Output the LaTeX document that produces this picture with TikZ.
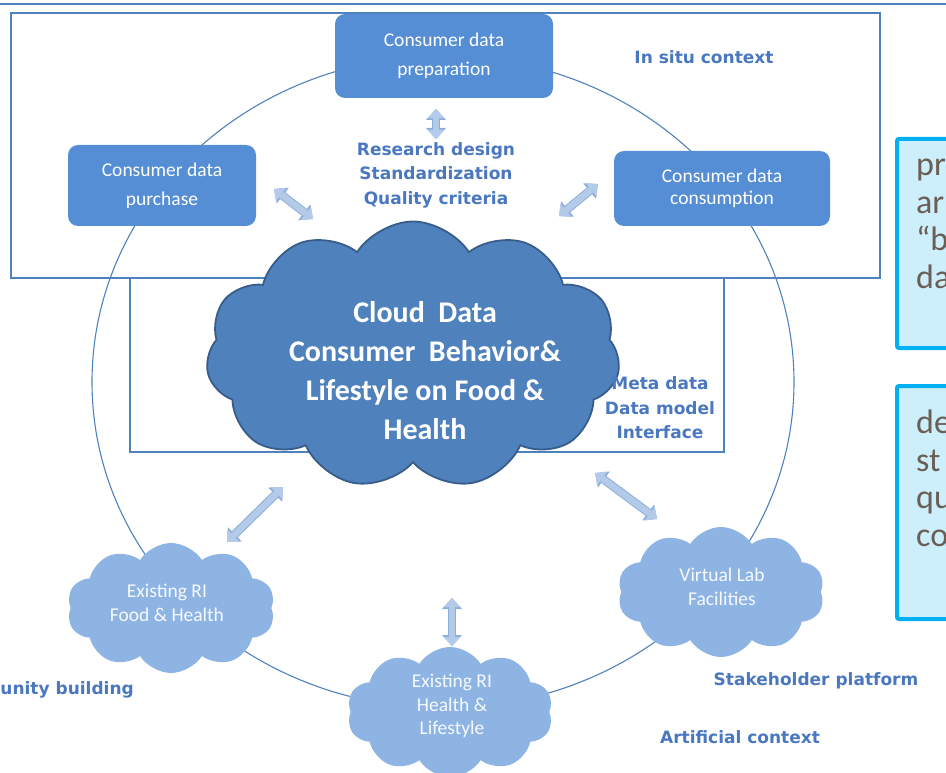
\documentclass[tikz,border=0pt]{standalone}
\usepackage{fontspec}
\setmainfont{Carlito}
\newfontfamily\tagfont{DejaVu Sans}
\usetikzlibrary{arrows.meta,shapes.symbols}
\definecolor{rimblue}{HTML}{4F81BD}
\definecolor{stageblue}{HTML}{558ED5}
\definecolor{coreblue}{HTML}{4F81BD}
\definecolor{coreedge}{HTML}{385D8A}
\definecolor{puffblue}{HTML}{8EB4E3}
\definecolor{tagblue}{HTML}{4A78C0}
\definecolor{linkfill}{HTML}{B3CAE8}
\definecolor{linkedge}{HTML}{8DAFDB}
\definecolor{notefill}{HTML}{CDEFFB}
\definecolor{noteedge}{HTML}{00B0F0}
\definecolor{notegray}{HTML}{6B5E54}
\tikzset{
    >=Triangle,
    rsd/.style={
        panel/.append style={draw=rimblue,line width=2.5pt},
        ring/.append style={draw=rimblue,line width=1.1pt},
        stage/.append style={rectangle,rounded corners=10pt,fill=stageblue,text=white,align=center,inner sep=0pt,font=\fontsize{19.5}{29}\selectfont},
        core/.append style={cloud,cloud puffs=11,cloud puff arc=115,aspect=1.6,fill=coreblue,draw=coreedge,line width=1.8pt,inner sep=0pt},
        coretext/.append style={text=white,align=center,font=\bfseries\fontsize{30}{39}\selectfont},
        puff/.append style={cloud,cloud puffs=10,cloud puff arc=115,aspect=1.6,fill=puffblue,inner sep=0pt},
        pufftext/.append style={text=white!92!puffblue,align=center,font=\fontsize{19.5}{23.5}\selectfont},
        tag/.append style={text=tagblue,align=center,inner sep=0pt,font=\tagfont\bfseries\fontsize{17}{24.5}\selectfont},
        note/.append style={rectangle,fill=notefill,draw=noteedge,line width=4pt,rounded corners=2pt,anchor=north west},
        notetext/.append style={text=notegray,align=left,inner sep=0pt,anchor=north west,font=\fontsize{34}{37.5}\selectfont},
        link/.append style={draw=linkfill,line width=6.5pt,
            {Triangle[length=9pt,width=17pt,line width=0pt]}-{Triangle[length=9pt,width=17pt,line width=0pt]},
            preaction={draw=linkedge,line width=8.5pt,
            {Triangle[length=11pt,width=20pt,line width=0pt]}-{Triangle[length=11pt,width=20pt,line width=0pt]}}}
    }
}

\begin{document}
\begin{tikzpicture}[rsd,x=1pt,y=-1pt]
    \useasboundingbox (0,0) rectangle (946,773);
    \clip (0,0) rectangle (946,773);

    % frames
    \draw[rimblue,line width=2.5pt] (0,4) -- (946,4);
    \draw[panel] (11,13) rectangle (880,278);
    \draw[panel] (130,278) -- (130,452) -- (724,452) -- (724,278);
    \draw[ring] (443,382) ellipse [x radius=351,y radius=326];

    % arrows
    \coordinate (v1a) at (436,109);
    \coordinate (v1b) at (436,139);
    \coordinate (pa) at (274,189);
    \coordinate (pb) at (313,219);
    \coordinate (ca) at (598,184);
    \coordinate (cb) at (559,216);
    \coordinate (fa) at (227,542);
    \coordinate (fb) at (283,487);
    \coordinate (v2a) at (452,598);
    \coordinate (v2b) at (452,646);
    \coordinate (la) at (595,473);
    \coordinate (lb) at (657,519);
    \draw[link] (v1a) -- (v1b);
    \draw[link] (pa) -- (pb);
    \draw[link] (ca) -- (cb);
    \draw[link] (fa) -- (fb);
    \draw[link] (v2a) -- (v2b);
    \draw[link] (la) -- (lb);

    % in situ stages
    \node[stage,minimum width=218,minimum height=84] (prep) at (444,56) {Consumer data\\preparation};
    \node[stage,minimum width=188,minimum height=81] (purch) at (162,185.5) {Consumer data\\purchase};
    \node[stage,minimum width=216,minimum height=75,font=\fontsize{19.5}{22}\selectfont] (consum) at (722,188.5) {Consumer data\\consumption};

    % clouds
    \node[core,minimum width=414,minimum height=267] (hub) at (413,355) {};
    \node[coretext] (hubtxt) at (425,371) {Cloud\ \ Data\\Consumer\ \ Behavior\&\\Lifestyle on Food \&\\Health};
    \node[puff,minimum width=208,minimum height=130] (foodri) at (171,608) {};
    \node[pufftext] (foodtxt) at (167,603) {Existing RI\\Food \& Health};
    \node[puff,minimum width=206,minimum height=130] (healthri) at (450,712) {};
    \node[pufftext] (healthtxt) at (452,706) {Existing RI\\Health \&\\Lifestyle};
    \node[puff,minimum width=207,minimum height=130] (vlab) at (721,592) {};
    \node[pufftext] (vlabtxt) at (722,587) {Virtual Lab\\Facilities};

    % labels
    \node[tag] (insitu) at (704,57) {In situ context};
    \node[tag] (design) at (436,175) {Research design\\Standardization\\Quality criteria};
    \node[tag] (meta) at (660,408) {Meta data\\Data model\\Interface};
    \node[tag] (stake) at (816,681) {Stakeholder platform};
    \node[tag] (artif) at (740,737) {Artificial context};
    \node[tag,anchor=east] (commu) at (134,690) {unity building};

    % notes on the right
    \node[note,minimum width=80,minimum height=209] (note1) at (895,137) {};
    \node[notetext] (note1txt) at (916,159) {pr\\ar\\“b\\da};
    \node[note,minimum width=80,minimum height=233] (note2) at (895,384) {};
    \node[notetext] (note2txt) at (916,410) {de\\st\\qu\\co};
\end{tikzpicture}
\end{document}
